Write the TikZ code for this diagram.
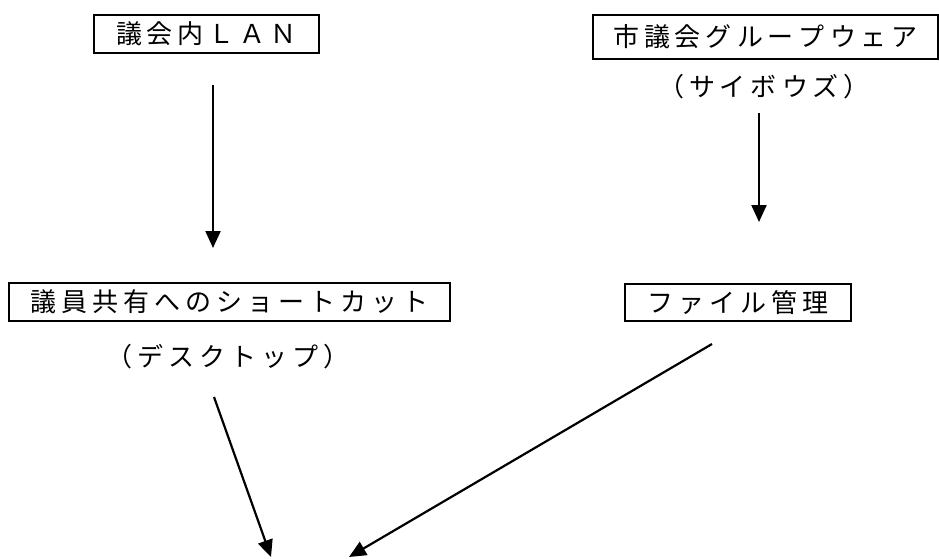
\documentclass[tikz,border=0pt]{standalone}
\usepackage{fontspec}
\setmainfont{Noto Sans CJK JP}
\usetikzlibrary{arrows.meta}
\def\gapw{5pt}
\def\spacedA#1#2{#1\ifx\relax#2\else\kern\gapw\expandafter\spacedA\expandafter#2\fi}
\newcommand\spc[1]{\spacedA#1\relax}
\begin{document}
\begin{tikzpicture}[x=1pt,y=-1pt,
  box/.style={draw, line width=1.4pt, inner sep=0pt, font=\fontsize{26}{26}\selectfont},
  lbl/.style={font=\fontsize{26}{26}\selectfont, inner sep=0pt},
  arr/.style={line width=2.2pt, -{Triangle[length=17pt,width=15pt]}}]
\useasboundingbox (0,0) rectangle (939,559);
\node[box, minimum width=225pt, minimum height=38pt] (lan) at (206.5,34) {\spc{議会内ＬＡＮ}};
\node[box, minimum width=345pt, minimum height=44pt] (gw) at (765.5,37) {\spc{市議会グループウェア}};
\node[lbl] (cy) at (764,87) {\spc{（サイボウズ）}};
\node[box, minimum width=441pt, minimum height=38pt] (sc) at (229.5,302) {\spc{議員共有へのショートカット}};
\node[lbl] (dt) at (228,357) {\spc{（デスクトップ）}};
\node[box, minimum width=226pt, minimum height=37pt] (fm) at (738,302.5) {\spc{ファイル管理}};
\coordinate (a1s) at (213,85);
\coordinate (a1e) at (213,248);
\coordinate (a2s) at (759,113);
\coordinate (a2e) at (759,222);
\coordinate (a3s) at (214,397);
\coordinate (a3e) at (271,557);
\coordinate (a4s) at (712,344);
\coordinate (a4e) at (349,557);
\draw[arr] (a1s) -- (a1e);
\draw[arr] (a2s) -- (a2e);
\draw[arr] (a3s) -- (a3e);
\draw[arr] (a4s) -- (a4e);
\end{tikzpicture}
\end{document}
